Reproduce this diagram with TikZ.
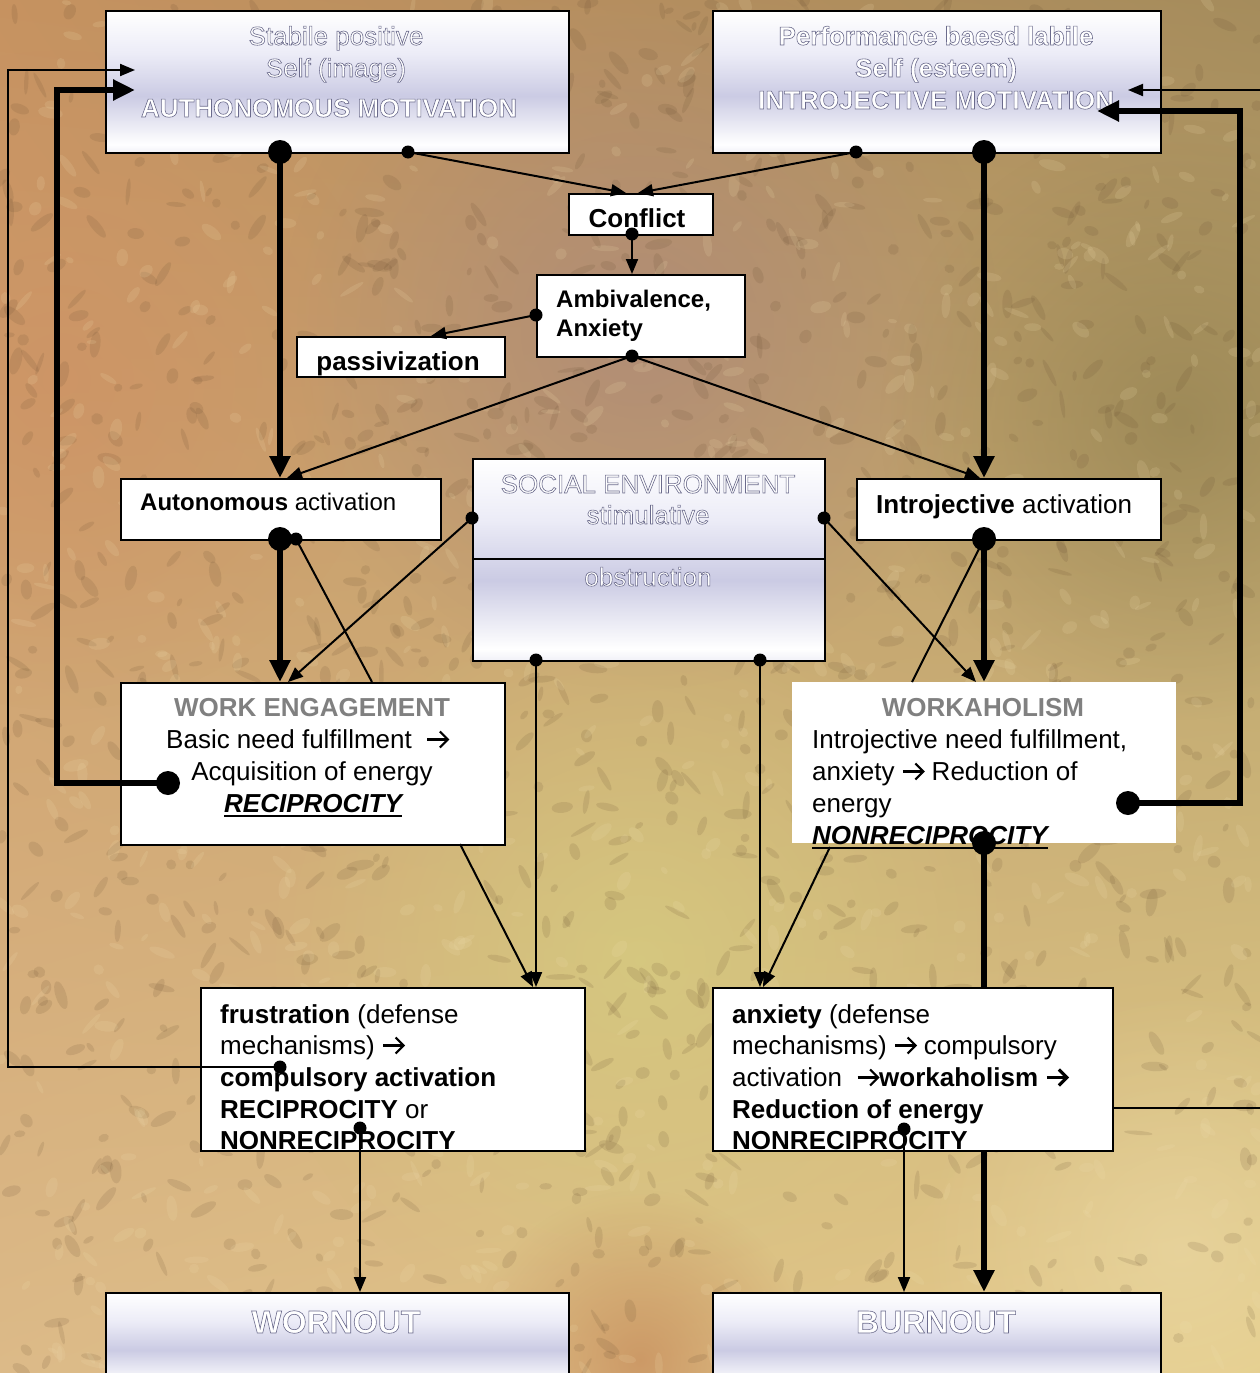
\documentclass[tikz,border=0pt]{standalone}
\usepackage{fontspec}
\setmainfont{Liberation Sans}
\usetikzlibrary{arrows.meta,fadings,calc,shadings}

\definecolor{bgUL}{RGB}{198,146,96}
\definecolor{bgUR}{RGB}{165,140,92}
\definecolor{bgLL}{RGB}{220,186,136}
\definecolor{bgLR}{RGB}{228,205,138}
\definecolor{blobPink}{RGB}{172,136,122}
\definecolor{blobYel}{RGB}{214,204,128}
\definecolor{blobOl}{RGB}{140,124,76}
\definecolor{blobSal}{RGB}{206,146,100}
\definecolor{blobOr}{RGB}{196,136,88}
\definecolor{speckD}{RGB}{100,74,46}
\definecolor{speckL}{RGB}{240,222,175}
\definecolor{titlegray}{RGB}{128,128,128}
\definecolor{lavA}{RGB}{160,160,205}
\definecolor{lavB}{RGB}{236,236,247}

\pgfdeclareverticalshading{cloudy}{100bp}{color(0bp)=(lavB); color(12bp)=(lavA!80!white); color(28bp)=(white); color(45bp)=(lavA!55!white); color(60bp)=(lavB); color(75bp)=(white); color(88bp)=(lavA!70!white); color(100bp)=(lavA!85!white)}
\tikzfading[name=softblob, inner color=transparent!0, outer color=transparent!100]

\newcommand{\fsz}[1]{\fontsize{#1}{32}\selectfont}
\newcommand{\ulbox}[1]{\leavevmode\vtop{\hbox{#1}\kern2.5pt\hrule height 2.2pt}}
\newcommand{\arr}{\tikz[baseline=0pt, x=1pt, y=1pt, line width=2.2pt, line cap=butt, line join=miter]{\draw (0,8.5)--(20.5,8.5); \draw (12.5,0.5)--(20.5,8.5)--(12.5,16.5);}}
\newcommand{\arrb}{\tikz[baseline=0pt, x=1pt, y=1pt, line width=3.2pt, line cap=butt, line join=miter]{\draw (0,8.5)--(20,8.5); \draw (12,0.5)--(20,8.5)--(12,16.5);}}
% white text with a thin grey outline (single text object)
\newcommand{\shd}[1]{{\color{white}\special{pdf:literal direct 2 Tr 0.6 w 0.42 0.42 0.55 RG}#1\special{pdf:literal direct 0 Tr}}}

\begin{document}
\begin{tikzpicture}[x=1pt,y=-1pt,
  cloudbox/.style={draw=black, line width=2pt, shading=cloudy, inner sep=0pt, anchor=north west},
  whitebox/.style={draw=black, line width=2pt, fill=white, inner sep=0pt, anchor=north west},
  plainbox/.style={fill=white, inner sep=0pt, anchor=north west},
  wt/.style={inner sep=0pt, anchor=base},
  bt/.style={text=black, inner sep=0pt, anchor=base west},
  ct/.style={text=black, inner sep=0pt, anchor=base},
  bigdot/.style={circle, fill=black, inner sep=0pt, minimum size=24pt},
  smalldot/.style={circle, fill=black, inner sep=0pt, minimum size=13pt},
  conn/.style={line width=2pt, -{Triangle[length=15pt,width=12pt]}},
  heavy/.style={line width=5.5pt, -{Triangle[length=22pt,width=20pt]}},
  plainline/.style={line width=2pt}]
\useasboundingbox (0,0) rectangle (1260,1373);
\clip (0,0) rectangle (1260,1373);

% ---------- background ----------
\shade[upper left=bgUL, upper right=bgUR, lower left=bgLL, lower right=bgLR] (0,0) rectangle (1260,1373);
\fill[blobSal, path fading=softblob, fill opacity=0.7] (60,380) circle [radius=330pt];
\fill[blobPink, path fading=softblob, fill opacity=0.75] (640,330) circle [radius=360pt];
\fill[blobOl, path fading=softblob, fill opacity=0.6] (1180,420) circle [radius=300pt];
\fill[blobYel, path fading=softblob, fill opacity=0.8] (640,960) circle [radius=380pt];
\fill[blobOr, path fading=softblob, fill opacity=0.7] (640,1360) circle [radius=170pt];
\fill[speckL, path fading=softblob, fill opacity=0.5] (1180,1250) circle [radius=260pt];
\pgfmathsetseed{7}
\foreach \k in {1,...,1200}{
  \pgfmathsetmacro{\px}{rnd*1260}
  \pgfmathsetmacro{\py}{rnd*1373}
  \pgfmathsetmacro{\rw}{4+rnd*11}
  \pgfmathsetmacro{\rh}{2+rnd*4}
  \pgfmathsetmacro{\ang}{rnd*180}
  \fill[speckD, opacity=0.14, rotate around={\ang:(\px,\py)}] (\px,\py) ellipse ({\rw pt} and {\rh pt});
}
\foreach \k in {1,...,700}{
  \pgfmathsetmacro{\px}{rnd*1260}
  \pgfmathsetmacro{\py}{rnd*1373}
  \pgfmathsetmacro{\rw}{4+rnd*10}
  \pgfmathsetmacro{\rh}{2+rnd*4}
  \pgfmathsetmacro{\ang}{rnd*180}
  \fill[speckL, opacity=0.16, rotate around={\ang:(\px,\py)}] (\px,\py) ellipse ({\rw pt} and {\rh pt});
}

% ---------- named points ----------
\coordinate (pA1) at (280,152);
\coordinate (pA2) at (408,152);
\coordinate (pB1) at (856,152);
\coordinate (pB2) at (984,152);
\coordinate (pC) at (632,234);
\coordinate (pAmL) at (536,315);
\coordinate (pAmB) at (632,356);
\coordinate (pAa) at (280,539);
\coordinate (pAa2) at (296,539);
\coordinate (pSl) at (472,518);
\coordinate (pSr) at (824,518);
\coordinate (pSb1) at (536,660);
\coordinate (pSb2) at (760,660);
\coordinate (pIa) at (984,539);
\coordinate (pWE) at (168,783);
\coordinate (pWH) at (1128,803);
\coordinate (pWH2) at (984,843);
\coordinate (pF1) at (280,1067);
\coordinate (pF2) at (360,1128);
\coordinate (pAx) at (904,1129);
\coordinate (cfIn1) at (626,193);
\coordinate (cfIn2) at (638,193);
\coordinate (pvIn) at (431,336);
\coordinate (aaIn) at (287,478);
\coordinate (iaIn) at (980,478);
\coordinate (weIn) at (288,682);
\coordinate (weTop) at (372,682);
\coordinate (whIn) at (976,682);
\coordinate (whTop) at (912,682);
\coordinate (weOut) at (460,844);
\coordinate (frIn) at (533,987);
\coordinate (whOut) at (830,847);
\coordinate (axIn) at (763,987);
\coordinate (axOut) at (1112,1108);
\coordinate (loopL) at (8,0);
\coordinate (loopL2) at (57,0);
\coordinate (loopR) at (1240,0);
\coordinate (loopR2) at (1275,0);
\coordinate (aIn1) at (135,70);
\coordinate (aIn2) at (135,90);
\coordinate (bIn1) at (1128,90);
\coordinate (bIn2) at (1097,111);
\coordinate (sediv) at (0,559);

% ---------- bottom boxes and the line passing behind the anxiety box ----------
\node[cloudbox, minimum width=463pt, minimum height=95pt] (WO) at (105,1292) {};
\node[cloudbox, minimum width=448pt, minimum height=95pt] (BO) at (712,1292) {};
\draw[heavy] (pWH2) -- (pWH2 |- BO.north);

% ---------- boxes ----------
\node[cloudbox, minimum width=463pt, minimum height=142pt] (SA) at (105,10) {};
\node[cloudbox, minimum width=448pt, minimum height=142pt] (SB) at (712,10) {};
\node[whitebox, minimum width=144pt, minimum height=41pt] (CF) at (568,193) {};
\node[whitebox, minimum width=208pt, minimum height=82pt] (AM) at (536,274) {};
\node[whitebox, minimum width=208pt, minimum height=40pt] (PV) at (296,336) {};
\node[whitebox, minimum width=320pt, minimum height=61pt] (AA) at (120,478) {};
\node[cloudbox, minimum width=352pt, minimum height=202pt] (SE) at (472,458) {};
\draw[line width=1.5pt] (SE.west |- sediv) -- (SE.east |- sediv);
\node[whitebox, minimum width=304pt, minimum height=61pt] (IA) at (856,478) {};
\node[whitebox, minimum width=384pt, minimum height=162pt] (WE) at (120,682) {};
\node[plainbox, minimum width=384pt, minimum height=161pt] (WH) at (792,682) {};
\node[whitebox, minimum width=384pt, minimum height=163pt] (FR) at (200,987) {};
\node[whitebox, minimum width=400pt, minimum height=163pt] (AX) at (712,987) {};

% ---------- texts ----------
\node[wt, font=\fsz{26}] (ta1) at (336,45) {\shd{Stabile positive}};
\node[wt, font=\fsz{26}] (ta2) at (336,77) {\shd{Self (image)}};
\node[wt, font=\fsz{26}\bfseries] (ta3) at (329,117) {\shd{AUTHONOMOUS MOTIVATION}};
\node[wt, font=\fsz{26}\bfseries] (tb1) at (936,45) {\shd{Performance baesd labile}};
\node[wt, font=\fsz{26}\bfseries] (tb2) at (936,77) {\shd{Self (esteem)}};
\node[wt, font=\fsz{26}\bfseries] (tb3) at (936,109) {\shd{INTROJECTIVE MOTIVATION}};
\node[ct, font=\fsz{26}\bfseries] (tcf) at (637,227) {Conflict};
\node[bt, font=\fsz{24}\bfseries] (tam1) at (556,307) {Ambivalence,};
\node[bt, font=\fsz{24}\bfseries] (tam2) at (556,336) {Anxiety};
\node[ct, font=\fsz{26}\bfseries] (tpv) at (398,370) {passivization};
\node[bt, font=\fsz{24}] (taa) at (140,510) {\textbf{Autonomous} activation};
\node[wt, font=\fsz{26}] (tse1) at (648,493) {\shd{SOCIAL ENVIRONMENT}};
\node[wt, font=\fsz{26}] (tse2) at (648,524) {\shd{stimulative}};
\node[wt, font=\fsz{26}] (tse3) at (648,586) {\shd{obstruction}};
\node[bt, font=\fsz{26}] (tia) at (876,513) {\textbf{Introjective} activation};
\node[ct, font=\fsz{26}\bfseries, text=titlegray] (twe1) at (312,716) {WORK ENGAGEMENT};
\node[bt, font=\fsz{26}] (twe2) at (166,748) {Basic need fulfillment \ \arr};
\node[ct, font=\fsz{26}] (twe3) at (312,780) {Acquisition of energy};
\node[ct, font=\fsz{26}\bfseries\itshape] (twe4) at (313,812) {\ulbox{RECIPROCITY}};
\node[ct, font=\fsz{26}\bfseries, text=titlegray] (twh1) at (983,716) {WORKAHOLISM};
\node[bt, font=\fsz{26}] (twh2) at (812,748) {Introjective need fulfillment,};
\node[bt, font=\fsz{26}] (twh3) at (812,780) {anxiety \arr{} Reduction of};
\node[bt, font=\fsz{26}] (twh4) at (812,812) {energy};
\node[bt, font=\fsz{26}\bfseries\itshape] (twh5) at (812,844) {\ulbox{NONRECIPROCITY}};
\node[bt, font=\fsz{26}] (tfr1) at (220,1023) {\textbf{frustration} (defense};
\node[bt, font=\fsz{26}] (tfr2) at (220,1054) {mechanisms) \arr};
\node[bt, font=\fsz{26}\bfseries] (tfr3) at (220,1086) {compulsory activation};
\node[bt, font=\fsz{26}] (tfr4) at (220,1118) {\textbf{RECIPROCITY} or};
\node[bt, font=\fsz{26}\bfseries] (tfr5) at (220,1149) {NONRECIPROCITY};
\node[bt, font=\fsz{26}] (tax1) at (732,1023) {\textbf{anxiety} (defense};
\node[bt, font=\fsz{26}] (tax2) at (732,1054) {mechanisms) \arr{} compulsory};
\node[bt, font=\fsz{26}] (tax3) at (732,1086) {activation \ \arr\textbf{workaholism} \arrb};
\node[bt, font=\fsz{26}\bfseries] (tax4) at (732,1118) {Reduction of energy};
\node[bt, font=\fsz{26}\bfseries] (tax5) at (732,1149) {NONRECIPROCITY};
\node[wt, font=\fsz{32}\bfseries] (two) at (336,1333) {\shd{WORNOUT}};
\node[wt, font=\fsz{32}\bfseries] (tbo) at (936,1333) {\shd{BURNOUT}};

% ---------- connectors ----------
\draw[heavy] (pA1) -- (pA1 |- AA.north);
\draw[conn] (pA2) -- (cfIn1);
\draw[conn] (pB1) -- (cfIn2);
\draw[heavy] (pB2) -- (pB2 |- IA.north);
\draw[conn] (pC) -- (pC |- AM.north);
\draw[conn] (pAmL) -- (pvIn);
\draw[conn] (pAmB) -- (aaIn);
\draw[conn] (pAmB) -- (iaIn);
\draw[heavy] (pAa) -- (pAa |- WE.north);
\draw[plainline] (pAa2) -- (weTop);
\draw[conn] (pSl) -- (weIn);
\draw[conn] (pSr) -- (whIn);
\draw[heavy] (pIa) -- (pIa |- WH.north);
\draw[plainline] (pIa) -- (whTop);
\draw[conn] (weOut) -- (frIn);
\draw[conn] (pSb1) -- (pSb1 |- FR.north);
\draw[conn] (pSb2) -- (pSb2 |- AX.north);
\draw[conn] (whOut) -- (axIn);
\draw[conn] (pAx) -- (pAx |- BO.north);
\draw[conn] (pF2) -- (pF2 |- WO.north);
\draw[conn] (pF1) -- (pF1 -| loopL) |- (aIn1);
\draw[heavy] (pWE) -- (pWE -| loopL2) |- (aIn2);
\draw[heavy] (pWH) -- (pWH -| loopR) |- (bIn2);
\draw[conn] (axOut) -- (axOut -| loopR2) |- (bIn1);

% ---------- dots ----------
\node[bigdot] (dA1) at (pA1) {};
\node[smalldot] (dA2) at (pA2) {};
\node[smalldot] (dB1) at (pB1) {};
\node[bigdot] (dB2) at (pB2) {};
\node[smalldot] (dC) at (pC) {};
\node[smalldot] (dAmL) at (pAmL) {};
\node[smalldot] (dAmB) at (pAmB) {};
\node[bigdot] (dAa) at (pAa) {};
\node[smalldot] (dAa2) at (pAa2) {};
\node[smalldot] (dSl) at (pSl) {};
\node[smalldot] (dSr) at (pSr) {};
\node[smalldot] (dSb1) at (pSb1) {};
\node[smalldot] (dSb2) at (pSb2) {};
\node[bigdot] (dIa) at (pIa) {};
\node[bigdot] (dWE) at (pWE) {};
\node[bigdot] (dWH) at (pWH) {};
\node[bigdot] (dWH2) at (pWH2) {};
\node[smalldot] (dF1) at (pF1) {};
\node[smalldot] (dF2) at (pF2) {};
\node[smalldot] (dAx) at (pAx) {};
\end{tikzpicture}
\end{document}
